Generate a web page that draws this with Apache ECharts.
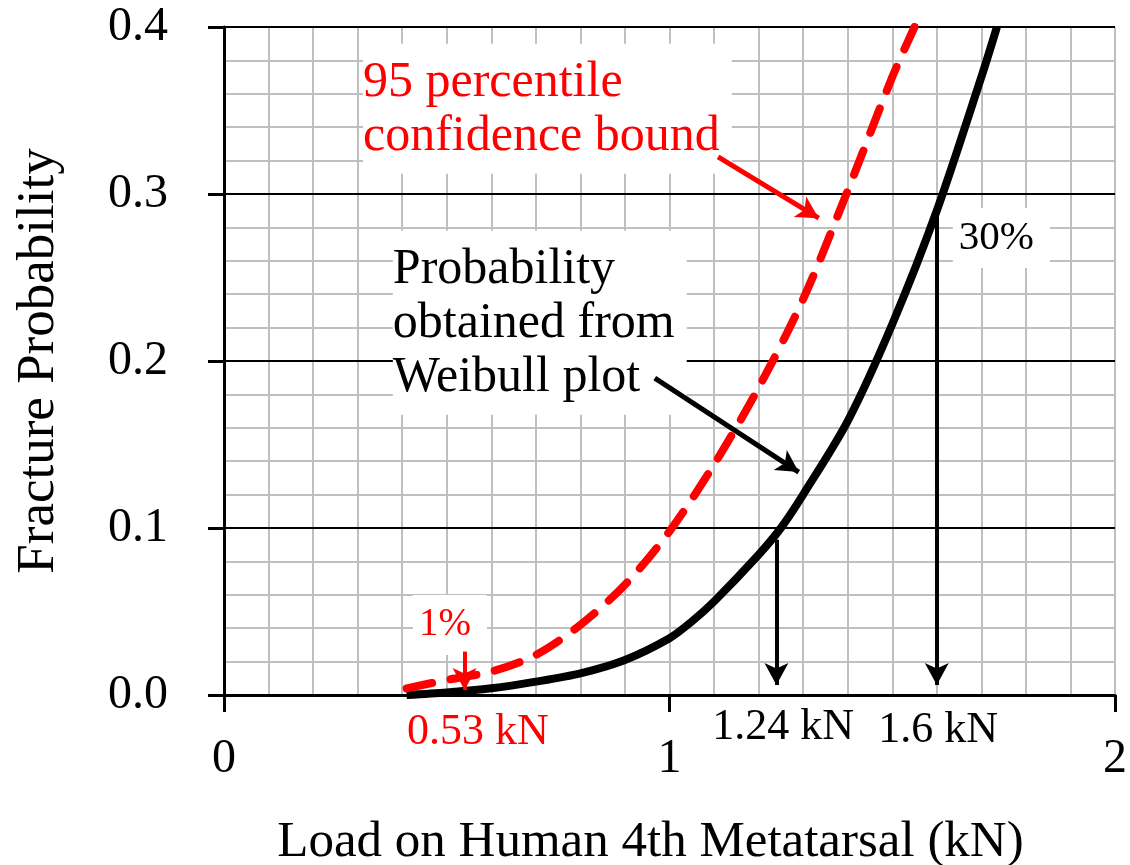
<!DOCTYPE html>
<html>
<head>
<meta charset="utf-8">
<script src="https://cdn.jsdelivr.net/npm/echarts@6/dist/echarts.min.js"></script>
<style>
  html, body { margin: 0; padding: 0; background: #fff; }
  #main { width: 1130px; height: 865px; }
</style>
</head>
<body>
<div id="main"></div>
<script>
const chartDom = document.getElementById('main');
const myChart = echarts.init(chartDom);

const FONT = '"Liberation Serif", "Times New Roman", serif';

// Weibull fracture probability curve (load kN, probability)
const weibullCurve = [
	[0.41, 0.0], [0.5, 0.0015], [0.6, 0.004], [0.7, 0.008], [0.8, 0.013],
	[0.9, 0.021], [1.0, 0.034], [1.05, 0.044], [1.1, 0.056], [1.2, 0.084],
	[1.25, 0.1], [1.3, 0.12], [1.4, 0.164], [1.5, 0.222], [1.6, 0.29],
	[1.7, 0.37], [1.735, 0.4]
];

// 95 percentile confidence bound
const boundCurve = [
	[0.41, 0.004], [0.5, 0.009], [0.6, 0.014], [0.7, 0.024], [0.8, 0.042],
	[0.9, 0.066], [1.0, 0.098], [1.1, 0.138], [1.2, 0.184], [1.3, 0.237],
	[1.4, 0.302], [1.5, 0.37], [1.55, 0.4]
];

// boxed notes: [x, y (top-left), text, colour, font size]
const boxNotes = [
	[0.312, 0.390, '95 percentile\nconfidence bound', 'red', 50],
	[0.379, 0.278, 'Probability\nobtained from\nWeibull plot', 'black', 50],
	[1.636, 0.2916, '30%', 'black', 41],
	[0.424, 0.0599, '1%', 'red', 39]
];

// load readings under the axis: [x, y (center), text, colour]
const loadNotes = [
	[0.57, -0.0225, '0.53 kN', 'red'],
	[1.255, -0.0195, '1.24 kN', 'black'],
	[1.603, -0.0215, '1.6 kN', 'black']
];

// arrows: [from, to, colour, width]
const arrows = [
	[[1.109, 0.3222], [1.335, 0.2855], 'red', 5],
	[[0.967, 0.1898], [1.29, 0.1335], 'black', 5],
	[[1.24, 0.093], [1.24, 0.006], 'black', 4],
	[[1.6, 0.29], [1.6, 0.006], 'black', 4],
	[[0.54, 0.026], [0.54, 0.003], 'red', 4]
];

const xTicks = [0, 1, 2];
const yTicks = [0, 0.1, 0.2, 0.3, 0.4];

let noteData = boxNotes.map((n) => {
	let big = n[4] >= 46;
	return {
		value: [n[0], n[1]],
		label: {
			show: true,
			position: [0, 0],
			align: 'left',
			verticalAlign: 'top',
			formatter: n[2],
			color: n[3],
			fontFamily: FONT,
			fontSize: n[4],
			lineHeight: big ? 54 : 44,
			backgroundColor: '#fff',
			padding: big ? [12, 12, 10, 0] : [8, 16, 8, 6]
		}
	};
});

let loadData = loadNotes.map((n) => ({
	value: [n[0], n[1]],
	label: {
		show: true,
		position: [0, 0],
		align: 'center',
		verticalAlign: 'middle',
		formatter: n[2],
		color: n[3],
		fontFamily: FONT,
		fontSize: 44
	}
}));

let arrowLines = arrows.map((a) => [
	{ coord: a[0], symbol: 'none' },
	{
		coord: a[1],
		symbol: 'arrow',
		symbolSize: [18, 22],
		lineStyle: { color: a[2], width: a[3], type: 'solid' },
		itemStyle: { color: a[2] }
	}
]);

let option = {
	animation: false,
	grid: {
		left: 224,
		right: 15,
		top: 27,
		bottom: 170,
		containLabel: false,
		outerBoundsMode: 'none'
	},
	xAxis: {
		type: 'value',
		min: xTicks[0],
		max: xTicks[xTicks.length - 1],
		interval: 1,
		z: 1,
		name: 'Load on Human 4th Metatarsal (kN)',
		nameLocation: 'middle',
		nameGap: 122,
		nameMoveOverlap: false,
		nameTextStyle: { fontFamily: FONT, fontSize: 51, color: '#000', padding: [0, 38, 0, 0] },
		axisLine: { onZero: false, lineStyle: { color: '#000', width: 3 } },
		axisTick: { length: 17, lineStyle: { color: '#000', width: 3 } },
		axisLabel: { fontFamily: FONT, fontSize: 48, color: '#000', margin: 40 },
		splitLine: { show: true, lineStyle: { color: '#bfbfbf', width: 2 } },
		minorTick: { show: false, splitNumber: 10 },
		minorSplitLine: { show: true, lineStyle: { color: '#bfbfbf', width: 2 } }
	},
	yAxis: {
		type: 'value',
		min: yTicks[0],
		max: yTicks[yTicks.length - 1],
		interval: 0.1,
		z: 1.5,
		name: 'Fracture Probability',
		nameLocation: 'middle',
		nameGap: 158,
		nameMoveOverlap: false,
		nameTextStyle: { fontFamily: FONT, fontSize: 53, color: '#000' },
		axisLine: { show: true, lineStyle: { color: '#000', width: 3 } },
		axisTick: { show: true, length: 16, lineStyle: { color: '#000', width: 3 } },
		axisLabel: {
			fontFamily: FONT, fontSize: 48, color: '#000', margin: 56,
			formatter: (v) => v.toFixed(1)
		},
		splitLine: { show: true, lineStyle: { color: '#000', width: 2 } },
		minorTick: { show: false, splitNumber: 5 },
		minorSplitLine: { show: true, lineStyle: { color: '#bfbfbf', width: 2 } }
	},
	series: [
		{
			name: 'Weibull',
			type: 'line',
			data: weibullCurve,
			smooth: 0.3,
			showSymbol: false,
			z: 4,
			lineStyle: { color: '#000', width: 8 },
			markLine: {
				silent: true,
				animation: false,
				label: { show: false },
				data: arrowLines
			}
		},
		{
			name: 'Bound',
			type: 'line',
			data: boundCurve,
			smooth: 0.3,
			showSymbol: false,
			z: 4,
			lineStyle: { color: '#ff0000', width: 8, type: [26, 19], cap: 'round' }
		},
		{
			name: 'notes',
			type: 'scatter',
			data: noteData.concat(loadData),
			symbolSize: 0,
			clip: false,
			silent: true,
			z: 3,
			itemStyle: { opacity: 1 }
		}
	]
};

myChart.setOption(option);
</script>
</body>
</html>
